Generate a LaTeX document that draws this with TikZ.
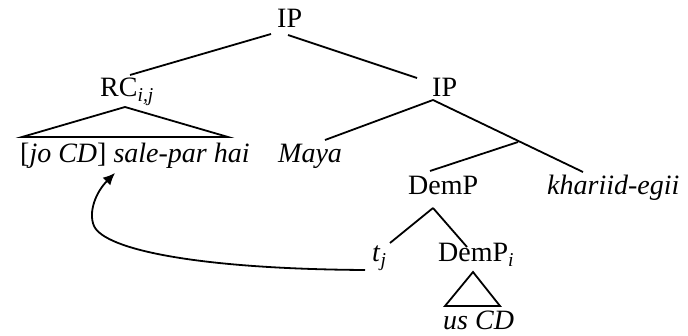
\documentclass[tikz,border=0pt]{standalone}
\usepackage{fontspec}
\setmainfont{Liberation Serif}
\usetikzlibrary{arrows.meta}
\begin{document}
\begin{tikzpicture}[x=1pt,y=-1pt,
  lbl/.style={inner sep=0pt,anchor=base west,font=\fontsize{28}{30}\selectfont},
  edge/.style={line width=1.8pt},
  mov/.style={line width=1.8pt,-{Latex[length=12pt,width=11pt]}}]
\useasboundingbox (0,0) rectangle (688,336);
% labels
\node[lbl] (ip) at (277,28) {IP};
\node[lbl] (rc) at (100,97) {RC\textsubscript{\textit{i,j}}};
\node[lbl] (ip2) at (432,97) {IP};
\node[lbl] (rcs) at (20,163) {[\textit{jo CD}] \textit{sale-par hai}};
\node[lbl] (maya) at (278,163) {\textit{Maya}};
\node[lbl] (demp) at (408,195) {DemP};
\node[lbl] (kh) at (547,195) {\textit{khariid-egii}};
\node[lbl] (tj) at (372,262) {\textit{t}\textsubscript{\textit{j}}};
\node[lbl] (dempi) at (438,262) {DemP\textsubscript{\textit{i}}};
\node[lbl] (us) at (443,330) {\textit{us CD}};
% edge end points
\coordinate (ipL) at (271,34);
\coordinate (ipR) at (288,35);
\coordinate (rcT) at (130,75);
\coordinate (ip2T) at (417,78);
\coordinate (rcB) at (125,107);
\coordinate (triL) at (22,137);
\coordinate (triR) at (228,137);
\coordinate (ip2B) at (433,100);
\coordinate (mayaT) at (325,140);
\coordinate (khT) at (583,172);
\coordinate (br) at (518,142);
\coordinate (dempT) at (430,171);
\coordinate (dempB) at (433,208);
\coordinate (tjT) at (390,243);
\coordinate (dempiT) at (467,247);
\coordinate (dempiB) at (473,272);
\coordinate (usL) at (445,306);
\coordinate (usR) at (500,306);
\coordinate (tjW) at (365,270);
\coordinate (bend) at (94,226);
\coordinate (tip) at (115,173);
% tree
\draw[edge] (ipL) -- (rcT);
\draw[edge] (ipR) -- (ip2T);
\draw[edge] (rcB) -- (triL) -- (triR) -- cycle;
\draw[edge] (ip2B) -- (mayaT);
\draw[edge] (ip2B) -- (khT);
\draw[edge] (br) -- (dempT);
\draw[edge] (dempB) -- (tjT);
\draw[edge] (dempB) -- (dempiT);
\draw[edge] (dempiB) -- (usL) -- (usR) -- cycle;
% movement
\draw[mov] (tjW) .. controls (200,269) and (105,250) .. (bend) .. controls (88,212) and (96,192) .. (tip);
\end{tikzpicture}
\end{document}
